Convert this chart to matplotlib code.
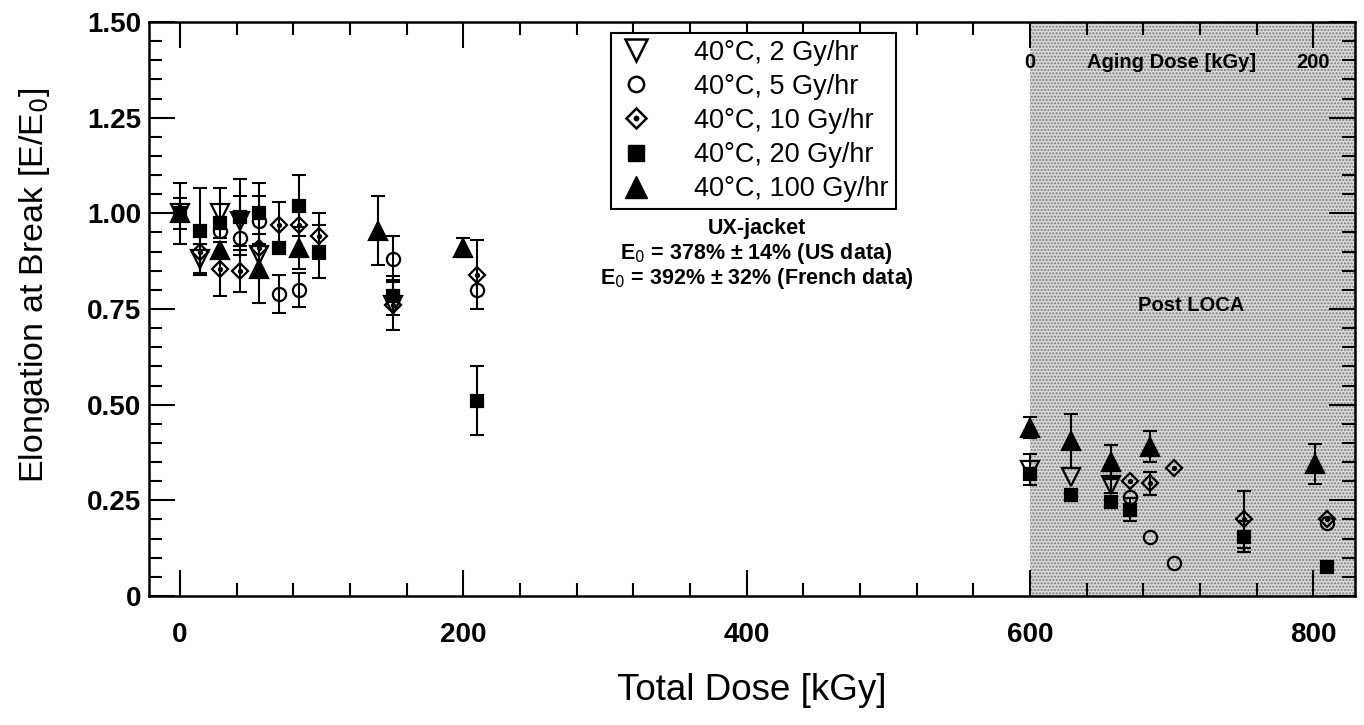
import numpy as np
import matplotlib
matplotlib.use("Agg")
import matplotlib.pyplot as plt
from matplotlib.lines import Line2D

plt.rcParams['font.family'] = ['Liberation Sans', 'DejaVu Sans']

# ---------------- data ----------------
labels = ["40°C, 2 Gy/hr", "40°C, 5 Gy/hr", "40°C, 10 Gy/hr",
          "40°C, 20 Gy/hr", "40°C, 100 Gy/hr"]

x_2 = [0, 14, 28, 42, 56, 150, 600, 629, 657]
y_2 = [1.00, 0.88, 1.00, 0.98, 0.89, 0.76, 0.33, 0.31, 0.29]
e_2 = [0, 0.04, 0.065, 0.065, 0, 0.065, 0.04, 0, 0.02]

x_5 = [28, 42, 56, 70, 84, 150, 210, 671, 685, 702, 810]
y_5 = [0.955, 0.935, 0.98, 0.79, 0.80, 0.88, 0.80, 0.26, 0.155, 0.085, 0.19]
e_5 = [0, 0, 0.065, 0.05, 0.045, 0.06, 0, 0, 0, 0, 0]

x_10 = [14, 28, 42, 56, 70, 84, 98, 150, 210, 671, 685, 702, 751, 810]
y_10 = [0.90, 0.855, 0.85, 0.91, 0.97, 0.97, 0.94, 0.76, 0.84, 0.30, 0.295, 0.335, 0.20, 0.20]
e_10 = [0.06, 0.07, 0.055, 0, 0.06, 0, 0.06, 0, 0.09, 0, 0.03, 0, 0.075, 0]

x_20 = [0, 14, 28, 42, 56, 70, 84, 98, 150, 210, 600, 629, 657, 671, 751, 810]
y_20 = [1.00, 0.955, 0.975, 0.99, 1.00, 0.91, 1.02, 0.90, 0.785, 0.51, 0.32, 0.265, 0.245, 0.225, 0.155, 0.075]
e_20 = [0.08, 0.11, 0, 0.10, 0.08, 0, 0.08, 0.07, 0.05, 0.09, 0, 0, 0, 0.03, 0.04, 0]

x_100 = [0, 28, 56, 84, 140, 200, 600, 629, 657, 685, 801]
y_100 = [1.00, 0.905, 0.855, 0.91, 0.955, 0.91, 0.44, 0.405, 0.35, 0.39, 0.345]
e_100 = [0.04, 0, 0.09, 0.055, 0.09, 0.025, 0.028, 0.07, 0.045, 0.04, 0.052]

x_ticks = [0, 200, 400, 600, 800]
y_ticks = [0, 0.25, 0.50, 0.75, 1.00, 1.25, 1.50]
y_ticklabels = ["0", "0.25", "0.50", "0.75", "1.00", "1.25", "1.50"]
loca_start = 600
aging_ticks = [0, 200]

# ---------------- figure ----------------
fig = plt.figure(figsize=(13.64, 7.25), dpi=100)
fig.patch.set_facecolor('white')
ax = fig.add_axes([149.3 / 1364, 1 - 596 / 725, (1355 - 149.3) / 1364, (596 - 22) / 725])
ax.set_xlim(-21.7, 829.5)
ax.set_ylim(0, 1.5)

# shaded Post-LOCA region
ax.axvspan(loca_start, 900, facecolor='#d9d9d9', edgecolor='#7a7a7a',
           hatch='.....', linewidth=0, zorder=0)

ms_lw = 1.6
cap = 5
series = [
    (x_2, y_2, e_2, dict(marker='v', ms=13, mfc='none', mec='black')),
    (x_5, y_5, e_5, dict(marker='o', ms=9.5, mfc='none', mec='black')),
    (x_10, y_10, e_10, dict(marker='D', ms=8.5, mfc='none', mec='black')),
    (x_20, y_20, e_20, dict(marker='s', ms=9, mfc='black', mec='black')),
    (x_100, y_100, e_100, dict(marker='^', ms=13, mfc='black', mec='black')),
]

for xs, ys, es, st in series:
    xs = np.asarray(xs, float); ys = np.asarray(ys, float); es = np.asarray(es, float)
    m = es > 0
    ax.errorbar(xs[m], ys[m], yerr=es[m], fmt='none', ecolor='black',
                elinewidth=1.5, capsize=cap, capthick=1.5, zorder=2)
    ax.plot(xs, ys, linestyle='none', mew=ms_lw, zorder=3, **st)
    if st['marker'] == 'D':
        ax.plot(xs, ys, linestyle='none', marker='o', ms=2.8, color='black', zorder=3)

# ticks
ax.set_xticks(x_ticks)
ax.set_xticks(np.arange(0, 830, 40), minor=True)
ax.set_yticks(y_ticks)
ax.set_yticklabels(y_ticklabels)
ax.set_yticks(np.arange(0, 1.5001, 0.05), minor=True)
ax.tick_params(which='both', direction='in', top=True, right=True, width=1.5)
ax.tick_params(which='major', length=19)
ax.tick_params(which='minor', length=9.5)
ax.tick_params(axis='x', which='major', pad=19)
ax.tick_params(axis='y', which='major', pad=6)
for lab in ax.get_xticklabels() + ax.get_yticklabels():
    lab.set_fontsize(20)
    lab.set_fontweight('bold')
for sp in ax.spines.values():
    sp.set_linewidth(1.8)

ax.set_xlabel("Total Dose [kGy]", fontsize=26.5, labelpad=18)
ax.set_ylabel("Elongation at Break [E/E$_0$]", fontsize=24.5)
ax.yaxis.set_label_coords(-0.081, 0.542)

# aging dose top labels inside plot
for a in aging_ticks:
    ax.text(loca_start + a, 1.393, str(a), ha='center', va='center',
            fontsize=14.5, fontweight='bold')
ax.text(loca_start + 100, 1.393, "Aging Dose [kGy]", ha='center', va='center',
        fontsize=14.5, fontweight='bold')
ax.text(714, 0.76, "Post LOCA", ha='center', va='center', fontsize=14.5, fontweight='bold')

# annotation
ax.text(407, 0.961, "UX-jacket", ha='center', va='center', fontsize=15.5, fontweight='bold')
ax.text(407, 0.896, "E$_0$ = 378% ± 14% (US data)", ha='center', va='center',
        fontsize=15.5, fontweight='bold')
ax.text(407, 0.831, "E$_0$ = 392% ± 32% (French data)", ha='center', va='center',
        fontsize=15.5, fontweight='bold')

# legend
h2 = Line2D([], [], linestyle='none', marker='v', ms=16, mfc='none', mec='black', mew=1.8)
h5 = Line2D([], [], linestyle='none', marker='o', ms=11, mfc='none', mec='black', mew=1.8)
h10a = Line2D([], [], linestyle='none', marker='D', ms=10.5, mfc='none', mec='black', mew=1.8)
h10b = Line2D([], [], linestyle='none', marker='o', ms=3.2, color='black')
h20 = Line2D([], [], linestyle='none', marker='s', ms=11, mfc='black', mec='black')
h100 = Line2D([], [], linestyle='none', marker='^', ms=16, mfc='black', mec='black')
leg = ax.legend([h2, h5, (h10a, h10b), h20, h100], labels,
                loc='upper left', bbox_to_anchor=(0.3827, 0.981),
                fontsize=19.5, frameon=True, fancybox=False, framealpha=1,
                edgecolor='black', borderpad=0.25, labelspacing=0.3,
                handlelength=1.4, handletextpad=1.44, borderaxespad=0)
leg.get_frame().set_linewidth(1.5)

fig.savefig("out.png", dpi=100)
